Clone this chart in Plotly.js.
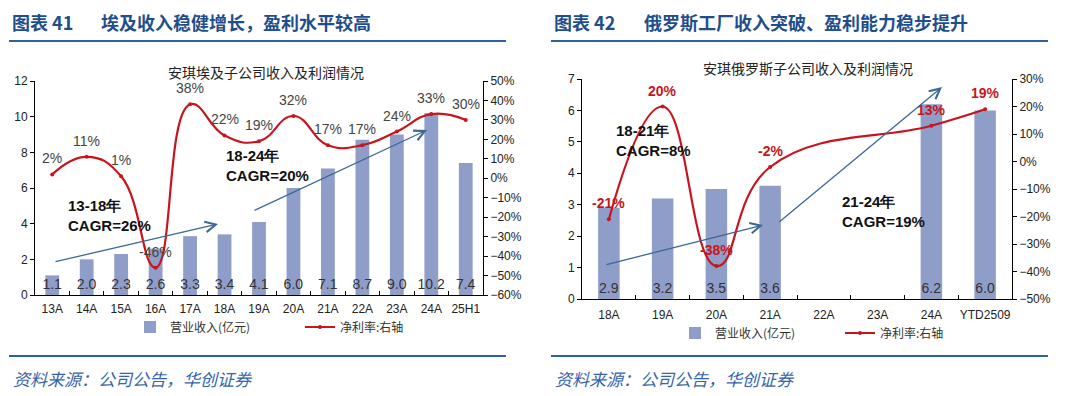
<!DOCTYPE html>
<html>
<head>
<meta charset="utf-8">
<script src="https://cdn.plot.ly/plotly-3.0.1.min.js"></script>
<style>
  html, body { margin: 0; padding: 0; background: #fff; }
  #chart { width: 1080px; height: 396px; }
</style>
</head>
<body>
<div id="chart"></div>
<script>
// ---------- data ----------
const egyptCats = ['13A', '14A', '15A', '16A', '17A', '18A', '19A', '20A', '21A', '22A', '23A', '24A', '25H1'];
const egyptRevenue = [1.1, 2.0, 2.3, 2.6, 3.3, 3.4, 4.1, 6.0, 7.1, 8.7, 9.0, 10.2, 7.4];
const egyptMargin = [2, 11, 1, -46, 38, 22, 19, 32, 17, 17, 24, 33, 30];

const russiaCats = ['18A', '19A', '20A', '21A', '22A', '23A', '24A', 'YTD2509'];
const russiaRevenue = [2.9, 3.2, 3.5, 3.6, null, null, 6.2, 6.0];
const russiaMargin = [-21, 20, -38, -2, null, null, 13, 19];

const revenueName = '营业收入(亿元)';
const marginName = '净利率:右轴';

// ---------- style ----------
const W = 1080, H = 396;
const px = x => x / W;
const py = y => 1 - y / H;
const FONT = 'Liberation Sans, Arial, sans-serif';
const CJK = 'Noto Sans CJK SC, sans-serif';
const BAR = '#8f9dc9';
const RED = '#c8141c';
const NAVY = '#1f4e8c';
const ARROW = '#3b6895';

const traces = [
  {
    type: 'bar', x: egyptCats, y: egyptRevenue, name: revenueName,
    xaxis: 'x', yaxis: 'y', width: 0.4, marker: { color: BAR },
    texttemplate: '%{y:.1f}', textposition: 'inside', insidetextanchor: 'start',
    constraintext: 'none', textangle: 0, cliponaxis: false,
    textfont: { family: FONT, size: 14, color: '#333' },
    legend: 'legend', hoverinfo: 'skip'
  },
  {
    type: 'scatter', mode: 'lines+markers', x: egyptCats, y: egyptMargin, name: marginName,
    xaxis: 'x', yaxis: 'y2', line: { color: RED, width: 2.2, shape: 'spline', smoothing: 1.3 },
    marker: { color: RED, size: 4 }, cliponaxis: false, legend: 'legend', hoverinfo: 'skip'
  },
  {
    type: 'bar', x: russiaCats, y: russiaRevenue, name: revenueName,
    xaxis: 'x3', yaxis: 'y3', width: 0.4, marker: { color: BAR },
    texttemplate: '%{y:.1f}', textposition: 'inside', insidetextanchor: 'start',
    constraintext: 'none', textangle: 0, cliponaxis: false,
    textfont: { family: FONT, size: 14, color: '#333' },
    legend: 'legend2', hoverinfo: 'skip'
  },
  {
    type: 'scatter', mode: 'lines+markers', x: russiaCats, y: russiaMargin, name: marginName,
    xaxis: 'x3', yaxis: 'y4', connectgaps: true,
    line: { color: RED, width: 2.2, shape: 'spline', smoothing: 1.3 },
    marker: { color: RED, size: 4 }, cliponaxis: false, legend: 'legend2', hoverinfo: 'skip'
  }
];

const tickFont = { family: FONT, size: 12, color: '#222' };
const xBase = {
  type: 'category', showline: true, linecolor: '#000', linewidth: 1,
  ticks: 'inside', tickson: 'boundaries', ticklen: 4, tickcolor: '#000', tickangle: 0,
  showgrid: false, zeroline: false, tickfont: tickFont, fixedrange: true
};
const yBase = {
  showline: true, linecolor: '#000', linewidth: 1, ticks: 'outside', ticklen: 4,
  tickcolor: '#000', showgrid: false, zeroline: false, tickfont: tickFont, fixedrange: true
};

const annotations = [];
// margin labels
egyptCats.forEach((c, i) => {
  annotations.push({
    xref: 'x', yref: 'y2', x: c, y: egyptMargin[i], text: egyptMargin[i] + '%',
    showarrow: false, yshift: 16, font: { family: FONT, size: 14, color: '#444' }
  });
});
russiaCats.forEach((c, i) => {
  if (russiaMargin[i] === null) return;
  annotations.push({
    xref: 'x3', yref: 'y4', x: c, y: russiaMargin[i], text: '<b>' + russiaMargin[i] + '%</b>',
    showarrow: false, yshift: 16, font: { family: FONT, size: 14, color: RED }
  });
});

// headers, subtitles, sources
function txt(x, y, text, font, xanchor) {
  annotations.push({
    xref: 'paper', yref: 'paper', x: px(x), y: py(y), text: text, showarrow: false,
    xanchor: xanchor || 'left', yanchor: 'middle', align: 'left', font: font
  });
}
const headFont = { family: CJK, size: 18, color: NAVY, weight: 'bold' };
txt(10, 22, '<b>图表 41</b>', headFont);
txt(99, 22, '<b>埃及收入稳健增长，盈利水平较高</b>', headFont);
txt(552, 22, '<b>图表 42</b>', headFont);
txt(642, 22, '<b>俄罗斯工厂收入突破、盈利能力稳步提升</b>', headFont);

const subFont = { family: CJK, size: 14, color: '#222' };
txt(266, 72, '安琪埃及子公司收入及利润情况', subFont, 'center');
txt(808, 68, '安琪俄罗斯子公司收入及利润情况', subFont, 'center');

const srcFont = { family: CJK, size: 17, color: '#3564ad', style: 'italic' };
txt(11, 378, '<i>资料来源：公司公告，华创证券</i>', srcFont);
txt(553, 378, '<i>资料来源：公司公告，华创证券</i>', srcFont);

// CAGR notes
const cagrFont = { family: FONT, size: 15, color: '#111' };
txt(66, 216, '<b>13-18年<br>CAGR=26%</b>', cagrFont);
txt(224, 165, '<b>18-24年<br>CAGR=20%</b>', cagrFont);
txt(614, 140, '<b>18-21年<br>CAGR=8%</b>', cagrFont);
txt(840, 211, '<b>21-24年<br>CAGR=19%</b>', cagrFont);

// trend arrows (tail -> head, in page pixels)
function arrow(tx, ty, hx, hy) {
  annotations.push({
    xref: 'paper', yref: 'paper', x: px(hx), y: py(hy),
    axref: 'pixel', ayref: 'pixel', ax: tx - hx, ay: ty - hy,
    text: '', showarrow: true, arrowhead: 5, arrowsize: 1.6, arrowwidth: 1.3,
    arrowcolor: ARROW, standoff: 0, startstandoff: 0, font: { size: 1 }
  });
}
arrow(54, 262, 218, 224);
arrow(253, 211, 427, 130);
arrow(605, 265, 763, 225);
arrow(778, 223, 942, 87);

const shapes = [
  { type: 'line', xref: 'paper', yref: 'paper', x0: px(9), x1: px(506), y0: py(41), y1: py(41), line: { color: '#2d5fa3', width: 2 } },
  { type: 'line', xref: 'paper', yref: 'paper', x0: px(551), x1: px(1048), y0: py(41), y1: py(41), line: { color: '#2d5fa3', width: 2 } },
  { type: 'line', xref: 'paper', yref: 'paper', x0: px(9), x1: px(506), y0: py(356), y1: py(356), line: { color: '#2d5fa3', width: 2 } },
  { type: 'line', xref: 'paper', yref: 'paper', x0: px(551), x1: px(1048), y0: py(356), y1: py(356), line: { color: '#2d5fa3', width: 2 } }
];

const legendFont = { family: CJK, size: 12, color: '#333' };
const layout = {
  width: W, height: H, margin: { l: 0, r: 0, t: 0, b: 0 },
  paper_bgcolor: '#fff', plot_bgcolor: 'rgba(0,0,0,0)',
  showlegend: true,
  xaxis: Object.assign({}, xBase, { domain: [px(35), px(483)], anchor: 'y', range: [-0.5, egyptCats.length - 0.5], ticklabelstandoff: 3 }),
  yaxis: Object.assign({}, yBase, { domain: [py(295), py(81)], anchor: 'x', range: [0, 12], dtick: 2 }),
  yaxis2: Object.assign({}, yBase, { overlaying: 'y', side: 'right', anchor: 'x', range: [-60, 50], dtick: 10, ticksuffix: '%' }),
  xaxis3: Object.assign({}, xBase, { domain: [px(582), px(1012)], anchor: 'y3', range: [-0.5, russiaCats.length - 0.5], ticklabelstandoff: 5 }),
  yaxis3: Object.assign({}, yBase, { domain: [py(299), py(79)], anchor: 'x3', range: [0, 7], dtick: 1 }),
  yaxis4: Object.assign({}, yBase, { overlaying: 'y3', side: 'right', anchor: 'x3', range: [-50, 30], dtick: 10, ticksuffix: '%' }),
  legend: {
    orientation: 'h', x: px(130), xanchor: 'left', y: py(327), yanchor: 'middle',
    font: legendFont, entrywidth: 125, bgcolor: 'rgba(0,0,0,0)', itemclick: false, itemdoubleclick: false
  },
  legend2: {
    orientation: 'h', x: px(675), xanchor: 'left', y: py(333), yanchor: 'middle',
    font: legendFont, entrywidth: 120, bgcolor: 'rgba(0,0,0,0)', itemclick: false, itemdoubleclick: false
  },
  annotations: annotations,
  shapes: shapes,
  bargap: 0.6
};

Plotly.newPlot('chart', traces, layout, { displayModeBar: false, staticPlot: true });
</script>
</body>
</html>
